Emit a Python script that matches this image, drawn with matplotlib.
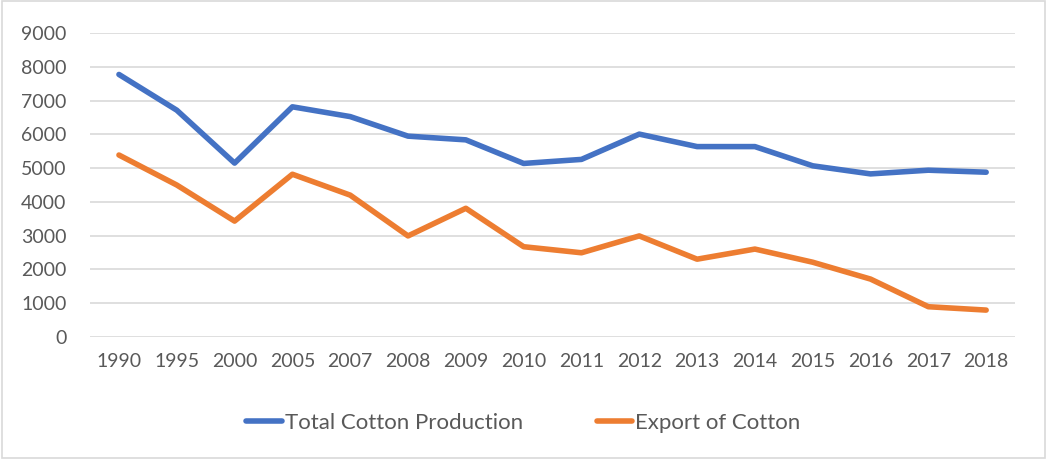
import matplotlib.pyplot as plt
from matplotlib.patches import Rectangle

years = ["1990", "1995", "2000", "2005", "2007", "2008", "2009", "2010",
         "2011", "2012", "2013", "2014", "2015", "2016", "2017", "2018"]
production = [7780, 6720, 5150, 6820, 6530, 5950, 5840, 5140,
              5260, 6010, 5640, 5640, 5070, 4830, 4940, 4880]
export = [5390, 4500, 3430, 4820, 4200, 2990, 3810, 2670,
          2490, 2990, 2300, 2600, 2210, 1710, 890, 790]

plt.rcParams['font.family'] = ['Lato', 'DejaVu Sans']
text_color = "#595959"

fig = plt.figure(figsize=(10.47, 4.59), dpi=100)
ax = fig.add_axes([0.086, 0.2664, 0.8835, 0.661])

x = range(len(years))
ax.plot(x, production, color="#4472C4", lw=4, solid_capstyle="round",
        solid_joinstyle="round", label="Total Cotton Production")
ax.plot(x, export, color="#ED7D31", lw=4, solid_capstyle="round",
        solid_joinstyle="round", label="Export of Cotton")

ax.set_xlim(-0.5, len(years) - 0.5)
ax.set_ylim(0, 9000)
ax.set_yticks(range(0, 9001, 1000))
ax.set_xticks(list(x))
ax.set_xticklabels(years)
ax.tick_params(axis="both", length=0, labelsize=14, colors=text_color)
ax.tick_params(axis="x", pad=12)
ax.tick_params(axis="y", pad=17)
ax.grid(axis="y", color="#d9d9d9", lw=1.2)
ax.set_axisbelow(True)
for side in ax.spines.values():
    side.set_visible(False)

fig.legend(loc="center", bbox_to_anchor=(0.5, 0.078), ncol=2, frameon=False,
           fontsize=16, labelcolor=text_color, handlelength=1.6,
           handletextpad=0.15, columnspacing=3.3)

# thin frame around the whole chart
fig.patches.append(Rectangle((0.002, 0.003), 0.996, 0.994, transform=fig.transFigure,
                             fill=False, edgecolor="#d9d9d9", lw=1.2))

fig.savefig("out.png", dpi=100)
